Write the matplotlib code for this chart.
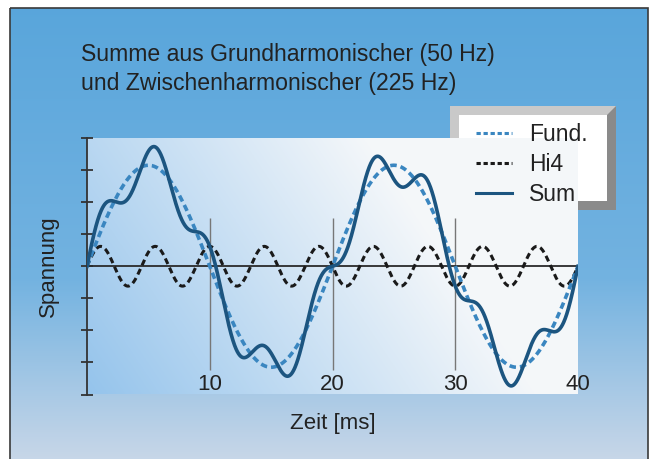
import numpy as np
import matplotlib
matplotlib.use("Agg")
import matplotlib.pyplot as plt
from matplotlib.patches import Rectangle, Polygon

plt.rcParams['font.family'] = ['Liberation Sans', 'DejaVu Sans']

f_fund = 50.0      # Hz
f_hi = 225.0       # Hz
amp_fund = 3.15    # in y tick units
amp_hi = 0.62
t_end = 40.0       # ms

t = np.linspace(0, t_end, 2001)
fund = amp_fund * np.sin(2 * np.pi * f_fund * t / 1000)
hi4 = amp_hi * np.sin(2 * np.pi * f_hi * t / 1000)
total = fund + hi4

xticks = [10, 20, 30, 40]
yticks = [-4, -3, -2, -1, 0, 1, 2, 3, 4]
grid_x = [10, 20, 30]
labels = ["Fund.", "Hi4", "Sum"]

W, H = 653, 459
fig = plt.figure(figsize=(W / 100, H / 100), dpi=100)
fig.patch.set_facecolor("white")

# background gradient
bg = fig.add_axes([0, 0, 1, 1], zorder=-10)
bg.set_xlim(0, W)
bg.set_ylim(H, 0)
bg.axis("off")
yy = np.linspace(0, 1, 200)
stops = [0, 0.6, 1]
cols = np.array([[0.35, 0.65, 0.86], [0.45, 0.70, 0.88], [0.78, 0.84, 0.91]])
grad = np.stack([np.interp(yy, stops, cols[:, c]) for c in range(3)], axis=-1)
grad = grad[:, None, :] * np.ones((1, 2, 1))
bg.imshow(grad, extent=[10, 648, H, 8], aspect="auto", zorder=0)
bg.add_patch(Rectangle((10, 8), 638, H, fill=False, ec="#3a3a3a", lw=1.2, zorder=2))

# main axes
ax = fig.add_axes([87 / W, 64.5 / H, 491 / W, 256.5 / H])
ax.set_xlim(0, t_end)
ax.set_ylim(-4, 4)
ax.patch.set_alpha(0)

# plot area gradient (bluish left/bottom to white right)
xn = np.linspace(0, 1, 300)[None, :]
yn = np.linspace(1, 0, 200)[:, None]
w = np.clip(0.08 + 1.0 * xn + 0.35 * yn, 0, 1)[..., None]
blue = np.array([0.55, 0.75, 0.92])
white = np.array([0.96, 0.97, 0.98])
pa = blue + (white - blue) * w
ax.imshow(pa, extent=[0, t_end, -4, 4], aspect="auto", zorder=0)

ax.vlines(grid_x, -3.25, 1.5, color="#777777", lw=1.0, zorder=1)
ax.axhline(0, color="#2a2a2a", lw=1.3, zorder=2)

ax.plot(t, hi4, color="#1a1a1a", lw=2.2, ls=(0, (2.0, 1.3)), zorder=3, label=labels[1])
ax.plot(t, fund, color="#3a86c0", lw=2.6, ls=(0, (1.8, 1.1)), zorder=4, label=labels[0])
ax.plot(t, total, color="#1c5580", lw=2.6, zorder=5, label=labels[2])

for s in ["top", "right", "bottom"]:
    ax.spines[s].set_visible(False)
ax.spines["left"].set_color("#333333")
ax.spines["left"].set_linewidth(1.3)
ax.set_yticks(yticks)
ax.set_yticklabels([])
ax.tick_params(axis="y", direction="inout", length=9, width=1.3, color="#333333")
ax.set_xticks(xticks)
ax.set_xticklabels([str(v) for v in xticks])
ax.tick_params(axis="x", length=0, pad=-15, labelsize=16, labelcolor="#222222")

ax.set_ylabel("Spannung", fontsize=16, color="#222222", labelpad=12)
ax.set_xlabel("Zeit [ms]", fontsize=16, color="#222222", labelpad=13)

fig.text(81 / W, 1 - 43 / H, "Summe aus Grundharmonischer (50 Hz)\nund Zwischenharmonischer (225 Hz)",
         fontsize=16.6, color="#222222", va="top", ha="left", linespacing=1.36)

# beveled legend box
lx0, lx1, ly0, ly1, b = 450, 616, 106, 210, 9
bg.add_patch(Rectangle((lx0, ly0), lx1 - lx0, ly1 - ly0, fc="#8a8a8a", ec="none", zorder=3))
bg.add_patch(Polygon([(lx0, ly0), (lx1, ly0), (lx1 - b, ly0 + b), (lx0 + b, ly1 - b), (lx0, ly1)],
                     fc="#c9c9c9", ec="none", zorder=4))
bg.add_patch(Rectangle((lx0 + b, ly0 + b), lx1 - lx0 - 2 * b, ly1 - ly0 - 2 * b, fc="white", ec="none", zorder=5))

h, l = ax.get_legend_handles_labels()
order = [1, 0, 2]
leg = fig.legend([h[i] for i in order], [l[i] for i in order],
                 loc="upper left", bbox_to_anchor=(476 / W, 1 - 123 / H),
                 frameon=False, fontsize=16.5, handlelength=1.55, handletextpad=0.75,
                 labelspacing=0.3, borderaxespad=0, borderpad=0)
for txt in leg.get_texts():
    txt.set_color("#222222")
leg_lines = leg.get_lines()
for ln in leg_lines:
    ln.set_linewidth(2.2)
leg_lines[0].set_linestyle((0, (1.4, 0.9)))
leg_lines[1].set_linestyle((0, (1.4, 0.9)))

fig.savefig("out.png", dpi=100)
